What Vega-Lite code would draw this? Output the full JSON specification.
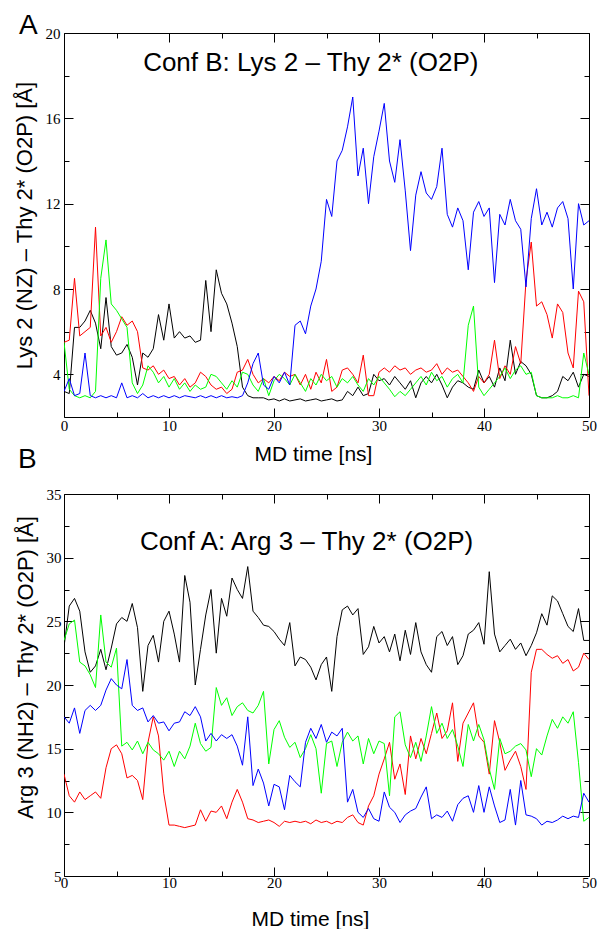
{
  "$schema": "https://vega.github.io/schema/vega-lite/v6.json",
  "background": "white",
  "padding": {"left": 12, "top": 11, "right": 5, "bottom": 5},
  "spacing": -20,
  "resolve": {"scale": {"x": "independent", "y": "independent", "color": "shared"}},
  "config": {
    "view": {"stroke": "black", "strokeWidth": 1},
    "axis": {"grid": false, "domain": false, "tickColor": "black", "tickWidth": 1, "labelColor": "black", "titleColor": "black", "labelFont": "Liberation Serif", "labelFontSize": 15, "titleFont": "Liberation Sans", "titleFontSize": 21, "titleFontWeight": "normal", "labelFlush": false, "labelOverlap": false},
    "title": {"font": "Liberation Sans", "fontSize": 28, "fontWeight": "normal", "color": "black", "anchor": "start", "frame": "group", "baseline": "alphabetic"}
  },
  "datasets": {
    "A": [
      {"t":0,"s0":3.2,"s1":5.5,"s2":5.5,"s3":3.2},
      {"t":0.5,"s0":3.1,"s1":5.6,"s2":3.3,"s3":3.8},
      {"t":1,"s0":6.2,"s1":8.5,"s2":3.0,"s3":3.0},
      {"t":1.5,"s0":6.2,"s1":5.8,"s2":2.9,"s3":3.1},
      {"t":2,"s0":6.5,"s1":6.0,"s2":3.0,"s3":5.0},
      {"t":2.5,"s0":7.0,"s1":6.2,"s2":2.9,"s3":3.0},
      {"t":3,"s0":6.4,"s1":10.9,"s2":3.2,"s3":2.9},
      {"t":3.5,"s0":5.2,"s1":5.8,"s2":8.5,"s3":3.0},
      {"t":4,"s0":7.6,"s1":6.2,"s2":10.3,"s3":2.9},
      {"t":4.5,"s0":5.3,"s1":5.5,"s2":7.3,"s3":3.0},
      {"t":5,"s0":4.9,"s1":6.0,"s2":7.0,"s3":2.9},
      {"t":5.5,"s0":5.0,"s1":6.7,"s2":6.6,"s3":3.6},
      {"t":6,"s0":5.4,"s1":6.3,"s2":6.2,"s3":2.9},
      {"t":6.5,"s0":4.8,"s1":6.5,"s2":3.6,"s3":3.0},
      {"t":7,"s0":3.5,"s1":6.0,"s2":3.1,"s3":2.9},
      {"t":7.5,"s0":5.0,"s1":4.3,"s2":3.5,"s3":3.1},
      {"t":8,"s0":4.8,"s1":4.2,"s2":4.4,"s3":2.9},
      {"t":8.5,"s0":5.2,"s1":4.4,"s2":4.1,"s3":3.0},
      {"t":9,"s0":6.8,"s1":4.0,"s2":3.6,"s3":2.9},
      {"t":9.5,"s0":5.6,"s1":4.2,"s2":3.9,"s3":3.0},
      {"t":10,"s0":7.3,"s1":3.8,"s2":3.4,"s3":2.9},
      {"t":10.5,"s0":5.7,"s1":3.9,"s2":3.8,"s3":3.0},
      {"t":11,"s0":6.0,"s1":3.5,"s2":3.3,"s3":2.9},
      {"t":11.5,"s0":5.7,"s1":3.8,"s2":3.6,"s3":3.0},
      {"t":12,"s0":5.8,"s1":3.4,"s2":3.2,"s3":2.95},
      {"t":12.5,"s0":5.5,"s1":3.6,"s2":3.5,"s3":2.9},
      {"t":13,"s0":5.6,"s1":4.1,"s2":3.3,"s3":3.0},
      {"t":13.5,"s0":8.4,"s1":3.9,"s2":3.4,"s3":2.9},
      {"t":14,"s0":6.0,"s1":3.5,"s2":4.0,"s3":3.0},
      {"t":14.5,"s0":8.9,"s1":3.3,"s2":3.9,"s3":2.9},
      {"t":15,"s0":7.8,"s1":3.4,"s2":3.6,"s3":3.0},
      {"t":15.5,"s0":7.3,"s1":3.1,"s2":3.3,"s3":2.9},
      {"t":16,"s0":6.4,"s1":3.3,"s2":3.7,"s3":2.95},
      {"t":16.5,"s0":5.3,"s1":4.1,"s2":3.4,"s3":2.9},
      {"t":17,"s0":3.4,"s1":4.2,"s2":4.1,"s3":3.0},
      {"t":17.5,"s0":3.0,"s1":4.7,"s2":4.0,"s3":3.6},
      {"t":18,"s0":2.9,"s1":4.0,"s2":3.5,"s3":4.5},
      {"t":18.5,"s0":2.9,"s1":3.6,"s2":3.2,"s3":5.0},
      {"t":19,"s0":2.9,"s1":3.8,"s2":3.8,"s3":3.5},
      {"t":19.5,"s0":2.8,"s1":3.6,"s2":3.0,"s3":3.3},
      {"t":20,"s0":2.85,"s1":3.9,"s2":3.7,"s3":3.9},
      {"t":20.5,"s0":2.75,"s1":3.7,"s2":4.0,"s3":3.6},
      {"t":21,"s0":2.85,"s1":4.1,"s2":3.8,"s3":4.1},
      {"t":21.5,"s0":2.75,"s1":3.9,"s2":3.5,"s3":3.5},
      {"t":22,"s0":2.8,"s1":4.0,"s2":4.0,"s3":6.3},
      {"t":22.5,"s0":2.85,"s1":3.5,"s2":3.6,"s3":6.5},
      {"t":23,"s0":2.75,"s1":4.0,"s2":3.2,"s3":5.9},
      {"t":23.5,"s0":2.8,"s1":3.3,"s2":3.8,"s3":7.2},
      {"t":24,"s0":2.85,"s1":4.1,"s2":3.5,"s3":8.0},
      {"t":24.5,"s0":2.75,"s1":3.6,"s2":4.0,"s3":9.3},
      {"t":25,"s0":2.8,"s1":4.7,"s2":3.7,"s3":12.2},
      {"t":25.5,"s0":2.85,"s1":3.2,"s2":3.9,"s3":11.4},
      {"t":26,"s0":2.75,"s1":3.4,"s2":3.4,"s3":14.0},
      {"t":26.5,"s0":2.8,"s1":4.2,"s2":3.8,"s3":14.5},
      {"t":27,"s0":3.2,"s1":4.3,"s2":3.6,"s3":15.6},
      {"t":27.5,"s0":3.0,"s1":4.0,"s2":3.9,"s3":17.0},
      {"t":28,"s0":3.4,"s1":3.6,"s2":3.5,"s3":13.3},
      {"t":28.5,"s0":3.0,"s1":4.9,"s2":3.2,"s3":14.6},
      {"t":29,"s0":3.1,"s1":3.0,"s2":3.8,"s3":12.0},
      {"t":29.5,"s0":4.0,"s1":3.0,"s2":3.5,"s3":14.2},
      {"t":30,"s0":3.7,"s1":4.1,"s2":3.9,"s3":15.4},
      {"t":30.5,"s0":3.8,"s1":4.3,"s2":3.6,"s3":16.7},
      {"t":31,"s0":3.5,"s1":4.1,"s2":3.3,"s3":14.0},
      {"t":31.5,"s0":3.9,"s1":4.4,"s2":2.95,"s3":13.0},
      {"t":32,"s0":3.6,"s1":4.2,"s2":3.2,"s3":15.0},
      {"t":32.5,"s0":3.3,"s1":4.3,"s2":3.0,"s3":12.6},
      {"t":33,"s0":3.7,"s1":4.0,"s2":3.3,"s3":9.8},
      {"t":33.5,"s0":2.9,"s1":4.2,"s2":3.6,"s3":12.4},
      {"t":34,"s0":3.6,"s1":4.3,"s2":3.9,"s3":13.5},
      {"t":34.5,"s0":3.9,"s1":4.1,"s2":3.5,"s3":12.5},
      {"t":35,"s0":3.6,"s1":4.2,"s2":4.1,"s3":12.2},
      {"t":35.5,"s0":4.0,"s1":4.5,"s2":3.7,"s3":12.8},
      {"t":36,"s0":3.5,"s1":4.0,"s2":3.9,"s3":14.6},
      {"t":36.5,"s0":2.9,"s1":4.3,"s2":3.4,"s3":11.5},
      {"t":37,"s0":3.4,"s1":4.1,"s2":3.8,"s3":10.9},
      {"t":37.5,"s0":3.7,"s1":4.2,"s2":4.0,"s3":11.8},
      {"t":38,"s0":3.6,"s1":3.9,"s2":3.6,"s3":11.2},
      {"t":38.5,"s0":3.4,"s1":3.6,"s2":6.3,"s3":8.9},
      {"t":39,"s0":3.3,"s1":3.2,"s2":7.2,"s3":11.6},
      {"t":39.5,"s0":4.2,"s1":3.9,"s2":3.4,"s3":12.1},
      {"t":40,"s0":3.6,"s1":3.6,"s2":3.0,"s3":11.4},
      {"t":40.5,"s0":3.9,"s1":4.0,"s2":3.3,"s3":11.8},
      {"t":41,"s0":3.4,"s1":5.6,"s2":3.6,"s3":8.3},
      {"t":41.5,"s0":4.3,"s1":3.8,"s2":3.9,"s3":11.5},
      {"t":42,"s0":3.7,"s1":4.4,"s2":4.3,"s3":11.0},
      {"t":42.5,"s0":5.6,"s1":4.0,"s2":3.8,"s3":12.2},
      {"t":43,"s0":4.0,"s1":5.3,"s2":4.2,"s3":11.2},
      {"t":43.5,"s0":4.6,"s1":4.5,"s2":4.4,"s3":10.8},
      {"t":44,"s0":4.4,"s1":8.4,"s2":4.0,"s3":8.1},
      {"t":44.5,"s0":4.0,"s1":10.2,"s2":4.1,"s3":11.3},
      {"t":45,"s0":3.0,"s1":7.2,"s2":3.0,"s3":12.7},
      {"t":45.5,"s0":2.9,"s1":7.4,"s2":2.9,"s3":11.0},
      {"t":46,"s0":2.9,"s1":6.8,"s2":2.9,"s3":11.6},
      {"t":46.5,"s0":3.0,"s1":5.7,"s2":2.9,"s3":10.9},
      {"t":47,"s0":3.2,"s1":7.3,"s2":3.0,"s3":11.8},
      {"t":47.5,"s0":3.9,"s1":6.9,"s2":2.9,"s3":12.1},
      {"t":48,"s0":3.7,"s1":5.0,"s2":2.9,"s3":11.3},
      {"t":48.5,"s0":4.1,"s1":4.3,"s2":3.0,"s3":8.0},
      {"t":49,"s0":3.4,"s1":7.9,"s2":2.9,"s3":12.0},
      {"t":49.5,"s0":4.0,"s1":7.4,"s2":5.0,"s3":11.0},
      {"t":50,"s0":3.9,"s1":3.0,"s2":4.0,"s3":11.2}
    ],
    "B": [
      {"t":0,"s0":23.0,"s1":13.0,"s2":23.5,"s3":17.5},
      {"t":0.5,"s0":26.2,"s1":11.3,"s2":24.8,"s3":17.0},
      {"t":1,"s0":26.8,"s1":10.8,"s2":25.1,"s3":18.2},
      {"t":1.5,"s0":25.8,"s1":11.6,"s2":21.8,"s3":16.2},
      {"t":2,"s0":22.6,"s1":11.0,"s2":21.5,"s3":18.0},
      {"t":2.5,"s0":21.0,"s1":11.3,"s2":20.8,"s3":18.4},
      {"t":3,"s0":21.5,"s1":11.6,"s2":19.8,"s3":18.0},
      {"t":3.5,"s0":22.8,"s1":11.1,"s2":25.5,"s3":18.4},
      {"t":4,"s0":21.2,"s1":13.5,"s2":21.8,"s3":19.6},
      {"t":4.5,"s0":22.9,"s1":15.0,"s2":21.4,"s3":20.5},
      {"t":5,"s0":24.8,"s1":15.3,"s2":22.9,"s3":20.0},
      {"t":5.5,"s0":25.3,"s1":14.6,"s2":15.2,"s3":19.7},
      {"t":6,"s0":25.0,"s1":12.7,"s2":15.5,"s3":22.0},
      {"t":6.5,"s0":26.4,"s1":12.9,"s2":14.9,"s3":18.4},
      {"t":7,"s0":24.5,"s1":12.5,"s2":15.6,"s3":18.0},
      {"t":7.5,"s0":19.5,"s1":11.0,"s2":14.6,"s3":18.2},
      {"t":8,"s0":23.1,"s1":15.5,"s2":15.5,"s3":17.1},
      {"t":8.5,"s0":23.9,"s1":17.5,"s2":14.9,"s3":17.6},
      {"t":9,"s0":21.8,"s1":16.0,"s2":14.6,"s3":17.0},
      {"t":9.5,"s0":25.0,"s1":11.5,"s2":14.1,"s3":17.1},
      {"t":10,"s0":25.8,"s1":9.0,"s2":14.8,"s3":16.4},
      {"t":10.5,"s0":24.0,"s1":9.0,"s2":13.6,"s3":17.0},
      {"t":11,"s0":21.8,"s1":8.9,"s2":14.8,"s3":17.1},
      {"t":11.5,"s0":28.6,"s1":8.8,"s2":14.2,"s3":17.9},
      {"t":12,"s0":26.5,"s1":8.9,"s2":15.2,"s3":17.6},
      {"t":12.5,"s0":20.0,"s1":9.0,"s2":17.0,"s3":18.3},
      {"t":13,"s0":22.8,"s1":10.2,"s2":15.4,"s3":17.5},
      {"t":13.5,"s0":25.5,"s1":9.3,"s2":14.8,"s3":15.6},
      {"t":14,"s0":27.5,"s1":10.1,"s2":15.1,"s3":16.2},
      {"t":14.5,"s0":22.5,"s1":10.0,"s2":19.8,"s3":15.6},
      {"t":15,"s0":26.8,"s1":10.5,"s2":18.4,"s3":16.1},
      {"t":15.5,"s0":25.4,"s1":9.5,"s2":19.0,"s3":15.8},
      {"t":16,"s0":28.4,"s1":10.8,"s2":17.6,"s3":16.1},
      {"t":16.5,"s0":27.5,"s1":11.8,"s2":18.3,"s3":15.2},
      {"t":17,"s0":26.8,"s1":10.8,"s2":18.6,"s3":13.7},
      {"t":17.5,"s0":29.3,"s1":9.5,"s2":18.0,"s3":17.5},
      {"t":18,"s0":25.8,"s1":9.4,"s2":17.8,"s3":12.1},
      {"t":18.5,"s0":25.3,"s1":9.2,"s2":18.4,"s3":13.4},
      {"t":19,"s0":24.7,"s1":9.3,"s2":19.5,"s3":12.3},
      {"t":19.5,"s0":24.6,"s1":9.4,"s2":13.8,"s3":10.5},
      {"t":20,"s0":24.2,"s1":9.2,"s2":16.5,"s3":12.2},
      {"t":20.5,"s0":23.6,"s1":8.9,"s2":17.2,"s3":12.0},
      {"t":21,"s0":23.1,"s1":9.3,"s2":15.9,"s3":10.2},
      {"t":21.5,"s0":24.9,"s1":9.2,"s2":15.1,"s3":12.9},
      {"t":22,"s0":21.5,"s1":9.3,"s2":15.5,"s3":12.4},
      {"t":22.5,"s0":22.2,"s1":9.2,"s2":14.3,"s3":12.0},
      {"t":23,"s0":22.0,"s1":9.3,"s2":15.0,"s3":15.5},
      {"t":23.5,"s0":21.4,"s1":9.1,"s2":16.1,"s3":16.6},
      {"t":24,"s0":20.4,"s1":9.4,"s2":15.0,"s3":15.8},
      {"t":24.5,"s0":21.6,"s1":9.2,"s2":11.5,"s3":16.9},
      {"t":25,"s0":22.2,"s1":9.3,"s2":15.4,"s3":15.5},
      {"t":25.5,"s0":19.5,"s1":9.1,"s2":15.6,"s3":16.3},
      {"t":26,"s0":23.8,"s1":9.3,"s2":13.6,"s3":16.0},
      {"t":26.5,"s0":25.9,"s1":9.2,"s2":15.5,"s3":16.6},
      {"t":27,"s0":26.2,"s1":9.6,"s2":16.3,"s3":10.8},
      {"t":27.5,"s0":25.5,"s1":9.8,"s2":15.6,"s3":11.8},
      {"t":28,"s0":26.0,"s1":9.2,"s2":16.0,"s3":10.0},
      {"t":28.5,"s0":22.4,"s1":9.0,"s2":13.8,"s3":9.6},
      {"t":29,"s0":23.0,"s1":10.5,"s2":15.8,"s3":10.3},
      {"t":29.5,"s0":24.6,"s1":11.3,"s2":14.6,"s3":9.5},
      {"t":30,"s0":23.3,"s1":13.0,"s2":15.6,"s3":9.3},
      {"t":30.5,"s0":23.8,"s1":14.2,"s2":15.4,"s3":11.6},
      {"t":31,"s0":22.6,"s1":15.5,"s2":11.3,"s3":10.4},
      {"t":31.5,"s0":24.0,"s1":12.6,"s2":17.5,"s3":10.0},
      {"t":32,"s0":21.9,"s1":13.8,"s2":17.9,"s3":9.2},
      {"t":32.5,"s0":24.3,"s1":11.4,"s2":15.3,"s3":9.8},
      {"t":33,"s0":22.4,"s1":16.0,"s2":14.3,"s3":10.1},
      {"t":33.5,"s0":24.9,"s1":14.2,"s2":15.5,"s3":10.3},
      {"t":34,"s0":22.6,"s1":15.8,"s2":14.0,"s3":11.2},
      {"t":34.5,"s0":21.6,"s1":14.6,"s2":16.0,"s3":12.0},
      {"t":35,"s0":21.0,"s1":16.2,"s2":18.3,"s3":9.5},
      {"t":35.5,"s0":23.8,"s1":17.8,"s2":16.2,"s3":9.8},
      {"t":36,"s0":24.2,"s1":15.8,"s2":17.0,"s3":9.6},
      {"t":36.5,"s0":23.1,"s1":16.4,"s2":15.8,"s3":10.1},
      {"t":37,"s0":23.8,"s1":18.6,"s2":16.5,"s3":9.3},
      {"t":37.5,"s0":21.6,"s1":14.0,"s2":15.2,"s3":10.6},
      {"t":38,"s0":22.3,"s1":17.0,"s2":13.6,"s3":11.1},
      {"t":38.5,"s0":24.0,"s1":17.8,"s2":16.9,"s3":11.3},
      {"t":39,"s0":24.3,"s1":18.6,"s2":15.6,"s3":10.0},
      {"t":39.5,"s0":24.9,"s1":16.0,"s2":16.9,"s3":12.1},
      {"t":40,"s0":23.2,"s1":15.5,"s2":15.7,"s3":10.0},
      {"t":40.5,"s0":28.9,"s1":13.0,"s2":13.4,"s3":12.0},
      {"t":41,"s0":24.0,"s1":17.2,"s2":11.8,"s3":10.5},
      {"t":41.5,"s0":22.6,"s1":15.5,"s2":15.8,"s3":9.2},
      {"t":42,"s0":23.1,"s1":13.3,"s2":14.6,"s3":9.4},
      {"t":42.5,"s0":23.6,"s1":14.1,"s2":14.8,"s3":11.8},
      {"t":43,"s0":22.8,"s1":14.8,"s2":15.2,"s3":9.0},
      {"t":43.5,"s0":23.3,"s1":13.6,"s2":15.4,"s3":12.5},
      {"t":44,"s0":22.3,"s1":11.8,"s2":14.9,"s3":9.8},
      {"t":44.5,"s0":23.1,"s1":21.0,"s2":12.8,"s3":9.7},
      {"t":45,"s0":24.1,"s1":22.8,"s2":15.0,"s3":9.5},
      {"t":45.5,"s0":25.6,"s1":22.8,"s2":14.5,"s3":9.0},
      {"t":46,"s0":24.7,"s1":22.4,"s2":16.0,"s3":9.3},
      {"t":46.5,"s0":27.0,"s1":22.1,"s2":17.3,"s3":9.2},
      {"t":47,"s0":26.6,"s1":22.3,"s2":16.6,"s3":9.4},
      {"t":47.5,"s0":25.6,"s1":21.7,"s2":17.5,"s3":9.7},
      {"t":48,"s0":24.6,"s1":22.0,"s2":17.0,"s3":9.5},
      {"t":48.5,"s0":24.2,"s1":21.1,"s2":17.9,"s3":9.7},
      {"t":49,"s0":26.0,"s1":21.4,"s2":13.9,"s3":9.6},
      {"t":49.5,"s0":23.5,"s1":22.5,"s2":9.3,"s3":11.5},
      {"t":50,"s0":23.5,"s1":22.0,"s2":9.6,"s3":10.8}
    ]
  },
  "vconcat": [
    {
      "title": {"text": "A", "dx": -45, "offset": 0, "dy": 14},
      "width": 525,
      "height": 384,
      "layer": [
        {
          "data": {"name": "A"},
          "transform": [{"fold": ["s0", "s1", "s2", "s3"], "as": ["series", "d"]}],
          "mark": {"type": "line", "strokeWidth": 1, "clip": true},
          "encoding": {
            "x": {"field": "t", "type": "quantitative", "scale": {"domain": [0, 50], "nice": false},
              "axis": {"orient": "bottom", "values": [0,5,10,15,20,25,30,35,40,45,50], "labelExpr": "datum.value % 10 === 0 ? datum.label : ''", "tickSize": {"condition": {"test": "datum.value % 10 === 0", "value": -9}, "value": -5}, "labelPadding": 10, "title": "MD time [ns]", "titleX": 249, "titlePadding": 6}},
            "y": {"field": "d", "type": "quantitative", "scale": {"domain": [2, 20], "nice": false, "zero": false},
              "axis": {"orient": "left", "values": [4,6,8,10,12,14,16,18,20], "labelExpr": "datum.value % 4 === 0 ? datum.label : ''", "tickSize": {"condition": {"test": "datum.value % 4 === 0", "value": -9}, "value": -5}, "labelPadding": 13, "title": "Lys 2  (NZ) – Thy 2* (O2P) [Å]", "titleFontSize": 22, "titleY": 192, "titlePadding": 9}},
            "color": {"field": "series", "type": "nominal", "scale": {"domain": ["s0", "s1", "s2", "s3"], "range": ["#000000", "#ff0000", "#00ff00", "#0000ff"]}, "legend": null}
          }
        },
        {
          "data": {"values": [{"t": 23.5, "v": 18.6, "label": "Conf B: Lys 2 – Thy 2* (O2P)"}]},
          "mark": {"type": "text", "font": "Liberation Sans", "fontSize": 26, "align": "center", "baseline": "middle", "color": "black"},
          "encoding": {
            "x": {"field": "t", "type": "quantitative", "axis": {"orient": "top", "values": [0,5,10,15,20,25,30,35,40,45,50], "labels": false, "title": null, "tickSize": {"condition": {"test": "datum.value % 10 === 0", "value": -9}, "value": -5}}},
            "y": {"field": "v", "type": "quantitative", "axis": {"orient": "right", "values": [4,6,8,10,12,14,16,18,20], "labels": false, "title": null, "tickSize": {"condition": {"test": "datum.value % 4 === 0", "value": -9}, "value": -5}}},
            "text": {"field": "label"}
          }
        }
      ]
    },
    {
      "title": {"text": "B", "dx": -46, "offset": 13},
      "width": 525,
      "height": 382,
      "layer": [
        {
          "data": {"name": "B"},
          "transform": [{"fold": ["s0", "s1", "s2", "s3"], "as": ["series", "d"]}],
          "mark": {"type": "line", "strokeWidth": 1, "clip": true},
          "encoding": {
            "x": {"field": "t", "type": "quantitative", "scale": {"domain": [0, 50], "nice": false},
              "axis": {"orient": "bottom", "values": [0,5,10,15,20,25,30,35,40,45,50], "labelExpr": "datum.value % 10 === 0 ? datum.label : ''", "tickSize": {"condition": {"test": "datum.value % 10 === 0", "value": -9}, "value": -5}, "labelPadding": 8, "title": "MD time [ns]", "titleX": 246, "titlePadding": 14}},
            "y": {"field": "d", "type": "quantitative", "scale": {"domain": [5, 35], "nice": false, "zero": false},
              "axis": {"orient": "left", "values": [5,7.5,10,12.5,15,17.5,20,22.5,25,27.5,30,32.5,35], "labelExpr": "datum.value % 5 === 0 ? datum.label : ''", "tickSize": {"condition": {"test": "datum.value % 5 === 0", "value": -9}, "value": -5}, "labelPadding": 12, "title": "Arg 3 (NH2) – Thy 2* (O2P) [Å]", "titleFontSize": 22, "titleY": 173, "titlePadding": 9}},
            "color": {"field": "series", "type": "nominal", "scale": {"domain": ["s0", "s1", "s2", "s3"], "range": ["#000000", "#ff0000", "#00ff00", "#0000ff"]}, "legend": null}
          }
        },
        {
          "data": {"values": [{"t": 23.1, "v": 31.2, "label": "Conf A: Arg 3 – Thy 2* (O2P)"}]},
          "mark": {"type": "text", "font": "Liberation Sans", "fontSize": 26, "align": "center", "baseline": "middle", "color": "black"},
          "encoding": {
            "x": {"field": "t", "type": "quantitative", "axis": {"orient": "top", "values": [0,5,10,15,20,25,30,35,40,45,50], "labels": false, "title": null, "tickSize": {"condition": {"test": "datum.value % 10 === 0", "value": -9}, "value": -5}}},
            "y": {"field": "v", "type": "quantitative", "axis": {"orient": "right", "values": [5,7.5,10,12.5,15,17.5,20,22.5,25,27.5,30,32.5,35], "labels": false, "title": null, "tickSize": {"condition": {"test": "datum.value % 5 === 0", "value": -9}, "value": -5}}},
            "text": {"field": "label"}
          }
        }
      ]
    }
  ]
}
